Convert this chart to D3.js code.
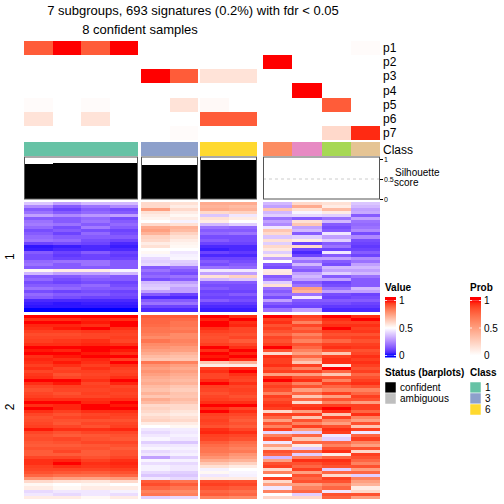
<!DOCTYPE html>
<html><head><meta charset="utf-8">
<script src="https://cdn.jsdelivr.net/npm/d3@7/dist/d3.min.js"></script>
<style>
body{margin:0;background:#fff}
svg{display:block}
text{font-family:"Liberation Sans",Arial,Helvetica,sans-serif;fill:#000}
</style>
</head><body>
<svg id="chart" width="504" height="504"></svg>
<script>
// ---------------- data ----------------
const titleLines = ["7 subgroups, 693 signatures (0.2%) with fdr < 0.05", "8 confident samples"];
const samples = ["s1","s2","s3","s4","s5","s6","s7","s8","s9","s10","s11","s12"];
const sampleClass = [1,1,1,1,3,3,6,6,2,4,5,7];
const sampleGroup = ["1","1","1","1","3","3","6","6","u","u","u","u"];
const silhouette = [0.875,0.9,0.9,0.9,0.85,0.85,0.975,0.975,0,0,0,0];
const sampleStatus = ["confident","confident","confident","confident","confident","confident","confident","confident","ambiguous","ambiguous","ambiguous","ambiguous"];
const probNames = ["p1","p2","p3","p4","p5","p6","p7"];
const probP1 = [0.8,1,0.8,1,0,0,0,0,0,0,0,0.02];
const probP2 = [0,0,0,0,0,0,0,0,1,0,0,0];
const probP3 = [0,0,0,0,1,0.8,0.15,0.15,0,0,0,0];
const probP4 = [0,0,0,0,0,0,0,0,0,1,0,0];
const probP5 = [0.02,0,0.02,0,0,0.15,0.03,0,0,0,0.8,0];
const probP6 = [0.15,0,0.15,0,0,0,0.8,0.8,0,0,0,0];
const probP7 = [0,0,0,0,0,0.02,0,0,0,0,0.2,0.95];
const rowGroupNames = ["1","2"];
// row group 1 (signature bands), one array per sample
const a1 = [0.38,0.25,0.15,0.2,0.3,0.15,0.2,0.22,0.18,0.12,0.15,0.18,0.2,0.1,0.02,0.03,0.15,0.12,0.12,0.18,0.2,0.15,0.52,0.35,0.15,0.18,0.12,0.15,0.2,0.12,0.18,0.15,0.05,0.03,0.02,0];
const a2 = [0.3,0.15,0.1,0.15,0.25,0.15,0.15,0.2,0.12,0.15,0.1,0.15,0.18,0.12,0.03,0.05,0.1,0.08,0.1,0.2,0.15,0.15,0.55,0.3,0.15,0.12,0.1,0.15,0.18,0.1,0.15,0.12,0.05,0.02,0.02,0];
const a3 = [0.35,0.2,0.15,0.18,0.28,0.18,0.2,0.15,0.22,0.12,0.18,0.15,0.12,0.1,0.05,0.05,0.15,0.1,0.1,0.2,0.2,0.15,0.55,0.3,0.18,0.15,0.12,0.18,0.15,0.12,0.15,0.1,0.05,0.03,0.02,0];
const a4 = [0.35,0.25,0.12,0.15,0.3,0.12,0.15,0.18,0.15,0.1,0.12,0.15,0.1,0.05,0.03,0.05,0.1,0.08,0.1,0.15,0.15,0.15,0.48,0.35,0.15,0.15,0.1,0.12,0.15,0.1,0.12,0.1,0.05,0.03,0.02,0];
const a5 = [0.6,0.6,0.75,0.58,0.55,0.53,0.5,0.6,0.72,0.75,0.7,0.62,0.6,0.55,0.58,0.5,0.52,0.48,0.42,0.4,0.42,0.15,0.2,0.15,0.18,0.12,0.35,0.38,0.4,0.3,0.15,0.05,0.15,0.2,0.1,0.05];
const a6 = [0.58,0.55,0.6,0.55,0.52,0.55,0.47,0.58,0.7,0.68,0.62,0.58,0.55,0.53,0.52,0.5,0.45,0.47,0.48,0.4,0.38,0.2,0.15,0.12,0.2,0.15,0.3,0.35,0.3,0.3,0.1,0.05,0.15,0.2,0.1,0.05];
const a7 = [0.72,0.7,0.72,0.6,0.38,0.58,0.55,0.35,0.2,0.15,0.18,0.12,0.15,0.1,0.05,0.03,0.1,0.05,0.1,0.15,0.12,0.2,0.45,0.3,0.58,0.35,0.15,0.12,0.15,0.1,0.12,0.1,0.15,0.08,0.05,0.03];
const a8 = [0.72,0.68,0.7,0.62,0.45,0.55,0.5,0.4,0.18,0.15,0.2,0.12,0.12,0.1,0.05,0.05,0.08,0.05,0.1,0.12,0.15,0.18,0.45,0.3,0.62,0.38,0.15,0.12,0.12,0.1,0.15,0.1,0.12,0.08,0.05,0.03];
const a9 = [0.35,0.3,0.65,0.35,0.4,0.2,0.3,0.25,0.45,0.65,0.6,0.38,0.58,0.4,0.6,0.56,0.4,0.55,0.3,0.5,0.15,0.12,0.55,0.56,0.15,0.2,0.4,0.58,0.2,0.15,0.2,0.12,0.3,0.15,0.1,0.2];
const a10 = [0.6,0.72,0.58,0.48,0.42,0.15,0.58,0.65,0.3,0.35,0.15,0.4,0.55,0.1,0.6,0.1,0.05,0.1,0.3,0.2,0.35,0.2,0.15,0.3,0.35,0.3,0.15,0.2,0.75,0.7,0.2,0.45,0.15,0.12,0.1,0.3];
const a11 = [0.58,0.55,0.68,0.55,0.4,0.2,0.35,0.15,0.12,0.15,0.45,0.3,0.4,0.15,0.2,0.1,0.45,0.15,0.3,0.15,0.12,0.35,0.3,0.4,0.15,0.3,0.1,0.12,0.2,0.3,0.12,0.1,0.15,0.12,0.08,0.05];
const a12 = [0.38,0.35,0.3,0.32,0.15,0.3,0.2,0.18,0.2,0.25,0.12,0.25,0.12,0.1,0.08,0.1,0.15,0.1,0.25,0.2,0.3,0.35,0.3,0.35,0.2,0.15,0.15,0.15,0.35,0.3,0.1,0.12,0.15,0.1,0.08,0.05];
// row group 2
const b1 = [1,0.97,1,0.98,0.97,0.95,0.93,0.94,0.95,0.97,1,0.99,1,0.97,0.98, 0.97,0.95,0.97,0.94,0.96,0.97,1,0.97,0.94,0.92,0.94,0.95,0.97,1,0.97, 1,0.97,0.94,0.92,0.93,0.94,0.95,0.99,0.94,0.92,0.93,0.91,0.9,0.92,0.9, 0.9,0.94,0.97,0.97,0.95,0.94,0.92,0.88,0.78,0.6,0.52,0.55,0.42,0.45,0.55];
const b2 = [1,0.97,1,0.98,0.99,0.95,0.93,0.94,0.96,0.97,1,0.98,1,0.99,0.97, 0.99,0.97,0.94,0.95,0.92,0.94,1,0.99,0.95,0.94,0.92,0.94,0.97,1,0.98, 0.98,0.95,0.92,0.94,0.92,0.91,0.94,0.97,0.92,0.9,0.94,0.92,0.9,0.92,0.94, 0.9,0.94,0.98,1,0.97,0.94,0.91,0.86,0.75,0.58,0.5,0.52,0.45,0.42,0.55];
const b3 = [1,0.98,0.99,0.97,1,0.96,0.94,0.94,0.97,0.98,1,1,0.99,1,0.98, 0.97,0.95,0.97,0.95,0.94,0.95,0.97,0.94,0.95,0.94,0.95,0.94,0.97,0.98,1, 1,0.97,0.94,0.95,0.92,0.94,0.92,0.97,0.94,0.91,0.92,0.94,0.91,0.92,0.9, 0.9,0.92,0.95,0.97,0.96,0.94,0.9,0.86,0.74,0.57,0.52,0.55,0.45,0.45,0.52];
const b4 = [1,0.97,1,1,0.97,0.95,0.94,0.95,0.94,0.97,1,0.99,0.97,1,0.95, 1,0.97,0.95,0.94,0.95,0.97,1,0.98,0.94,0.95,0.94,0.95,0.97,1,0.99, 1,0.97,0.95,0.94,0.92,0.94,0.95,0.98,0.94,0.92,0.91,0.94,0.92,0.9,0.92, 0.92,0.94,0.97,0.98,0.97,0.95,0.92,0.88,0.76,0.6,0.5,0.55,0.47,0.43,0.55];
const b5 = [0.9,0.88,0.88,0.87,0.85,0.85,0.83,0.8,0.85,0.8,0.78,0.75,0.72,0.68,0.65, 0.85,0.78,0.75,0.78,0.75,0.72,0.7,0.72,0.68,0.66,0.7,0.65,0.72,0.68,0.6, 0.62,0.6,0.57,0.6,0.62,0.55,0.5,0.45,0.42,0.45,0.48,0.4,0.45,0.48,0.42, 0.45,0.3,0.48,0.43,0.47,0.47,0.42,0.38,0.45,0.9,0.93,0.88,0.82,0.85,0.4];
const b6 = [0.9,0.87,0.85,0.85,0.83,0.85,0.8,0.8,0.82,0.8,0.76,0.75,0.7,0.67,0.65, 0.82,0.75,0.72,0.75,0.72,0.7,0.68,0.7,0.65,0.63,0.66,0.65,0.68,0.65,0.6, 0.6,0.57,0.55,0.58,0.6,0.55,0.52,0.46,0.45,0.47,0.45,0.38,0.45,0.47,0.45, 0.47,0.4,0.47,0.42,0.45,0.45,0.4,0.38,0.42,0.85,0.9,0.85,0.8,0.82,0.42];
const b7 = [1,0.98,1,1,0.97,0.95,0.93,0.92,0.93,0.95,1,0.97,1,0.99,1, 0.65,0.55,0.95,0.97,0.94,0.94,0.97,1,0.95,0.94,0.92,0.94,0.95,0.97,1, 0.97,1,0.95,0.94,0.95,0.94,0.92,0.97,0.98,0.95,0.94,0.9,0.87,0.85,0.85, 0.82,0.78,0.72,0.65,0.58,0.47,0.52,0.45,0.55,0.93,0.95,0.92,0.88,0.9,0.82];
const b8 = [0.97,1,0.97,0.98,0.94,0.94,0.92,0.94,0.9,0.94,0.97,1,0.98,1,0.97, 0.7,0.55,0.97,1,0.97,0.95,0.94,0.97,0.94,0.95,0.94,0.92,0.94,0.97,1, 0.94,0.97,0.94,0.92,0.9,0.92,0.9,0.94,0.97,0.94,0.92,0.87,0.85,0.82,0.84, 0.78,0.75,0.7,0.62,0.55,0.5,0.48,0.47,0.55,0.92,0.94,0.9,0.86,0.88,0.8];
const b9 = [1,0.95,0.97,0.92,0.95,0.92,0.88,0.94,0.92,0.95,1,0.92,0.6,0.97,0.95, 0.95,0.97,0.92,0.95,0.75,0.97,1,0.92,0.95,0.92,0.82,0.95,0.92,0.95,0.97, 0.95,0.6,0.95,0.88,0.75,0.92,0.82,0.95,0.42,0.82,0.92,0.45,0.75,0.6,0.92, 0.88,0.35,0.75,0.92,0.95,0.6,0.82,0.5,0.95,0.6,0.75,0.45,0.82,0.5,0.6];
const b10 = [0.95,0.92,0.82,0.94,0.88,0.92,0.82,0.88,0.82,0.92,0.88,0.82,0.75,0.88,0.75, 0.65,0.95,0.82,0.95,0.75,0.92,0.97,0.82,0.92,0.75,0.88,0.65,0.88,0.6,0.95, 0.97,0.75,0.95,0.65,0.92,0.82,0.95,0.75,0.4,0.88,0.65,0.88,0.55,0.4,0.88, 0.4,0.82,0.97,0.92,0.88,0.95,0.75,0.92,0.88,0.92,0.75,0.82,0.88,0.4,0.6];
const b11 = [1,0.97,0.95,0.97,1,0.95,0.92,0.94,0.88,0.95,0.97,0.92,0.65,0.95,0.97, 0.97,0.55,1,0.88,0.65,0.92,0.82,0.95,0.88,0.82,0.95,0.75,0.92,0.82,0.95, 1,0.97,0.65,0.95,0.82,0.75,0.92,0.97,0.95,0.45,0.4,0.88,0.82,0.92,0.97, 0.55,0.88,0.97,0.95,0.92,0.4,0.88,0.6,0.95,0.92,0.82,0.88,0.45,0.92,0.88];
const b12 = [0.97,1,0.95,0.97,0.95,0.96,0.92,0.95,0.92,0.95,0.96,0.92,0.94,0.97,0.95, 0.97,0.95,0.92,0.95,0.88,0.92,0.95,0.97,0.92,0.82,0.88,0.95,0.92,0.75,0.95, 0.95,0.88,0.97,0.82,0.75,0.92,0.65,0.95,0.45,0.88,0.95,0.82,0.75,0.92,0.6, 0.95,0.92,0.88,0.82,0.92,0.75,0.88,0.4,0.82,0.75,0.7,0.55,0.6,0.92,0.75];
const classLevels = [1,2,3,4,5,6,7];
const classColors = ["#66C2A5","#FC8D62","#8DA0CB","#E78AC3","#A6D854","#FFD92F","#E5C494"];
const legendClasses = [1,3,6];
const statusLevels = ["confident","ambiguous"];
const statusColors = ["#000000","#BEBEBE"];
const valueTicks = [0,0.5,1];
const valueTickLabels = ["0","0.5","1"];
const silTicks = [0,0.5,1];
const silTickLabels = ["0","0.5","1"];

// ---------------- build ----------------
const probRows = [probP1,probP2,probP3,probP4,probP5,probP6,probP7];
const groupA = [a1,a2,a3,a4,a5,a6,a7,a8,a9,a10,a11,a12];
const groupB = [b1,b2,b3,b4,b5,b6,b7,b8,b9,b10,b11,b12];
const rowGroups = [groupA, groupB];

const svg = d3.select("#chart");
const valueColor = d3.scaleLinear().domain([0,0.5,1]).range(["#0000FF","#FFFFFF","#FF0000"]).interpolate(d3.interpolateLab).clamp(true);
const probColor = d3.scaleLinear().domain([0,1]).range(["#FFFFFF","#FF0000"]).interpolate(d3.interpolateLab).clamp(true);
const classColor = d3.scaleOrdinal().domain(classLevels).range(classColors);
const statusColor = d3.scaleOrdinal().domain(statusLevels).range(statusColors);

// layout
const colGroupKeys = ["1","3","6","u"];
const colGroupExtent = {"1":[24,138],"3":[141,198],"6":[200,257],"u":[263,380]};
const colScales = {};
colGroupKeys.forEach(k=>{
  const idx = samples.map((s,i)=>i).filter(i=>sampleGroup[i]===k);
  colScales[k] = d3.scaleBand().domain(idx).range(colGroupExtent[k]).padding(0);
});
const xOf = i => colScales[sampleGroup[i]](i);
const wOf = i => colScales[sampleGroup[i]].bandwidth();
const rightEdge = 380;

// titles
svg.append("text").attr("x",193).attr("y",15).attr("text-anchor","middle").style("font-size","13px").text(titleLines[0]);
svg.append("text").attr("x",140).attr("y",33.5).attr("text-anchor","middle").style("font-size","13px").text(titleLines[1]);

// prob annotation
const yProb = d3.scaleBand().domain(probNames).range([41,140]);
probRows.forEach((row,r)=>{
  svg.append("g").selectAll("rect").data(row).join("rect")
    .attr("x",(d,i)=>xOf(i)).attr("width",(d,i)=>wOf(i))
    .attr("y",yProb(probNames[r])).attr("height",yProb.bandwidth())
    .attr("fill",d=>probColor(d)).attr("shape-rendering","crispEdges");
  svg.append("text").attr("x",rightEdge+3).attr("y",yProb(probNames[r])+yProb.bandwidth()/2+4)
    .style("font-size","12px").text(probNames[r]);
});
// class annotation
svg.append("g").selectAll("rect").data(sampleClass).join("rect")
  .attr("x",(d,i)=>xOf(i)).attr("width",(d,i)=>wOf(i))
  .attr("y",142).attr("height",14).attr("fill",d=>classColor(d)).attr("shape-rendering","crispEdges");
svg.append("text").attr("x",rightEdge+3).attr("y",153.5).style("font-size","12px").text("Class");

// silhouette barplot
const ySil = d3.scaleLinear().domain([0,1]).range([199,159]);
colGroupKeys.forEach(k=>{
  const [x0,x1] = colGroupExtent[k];
  svg.append("line").attr("x1",x0).attr("x2",x1).attr("y1",ySil(0.5)).attr("y2",ySil(0.5))
    .attr("stroke","#cccccc").attr("stroke-dasharray","3,3").attr("stroke-width",1);
});
svg.append("g").selectAll("rect").data(silhouette).join("rect")
  .attr("x",(d,i)=>xOf(i)).attr("width",(d,i)=>wOf(i))
  .attr("y",d=>ySil(d)).attr("height",d=>ySil(0)-ySil(d))
  .attr("fill",(d,i)=>statusColor(sampleStatus[i])).attr("shape-rendering","crispEdges");
colGroupKeys.forEach(k=>{
  const [x0,x1] = colGroupExtent[k];
  svg.append("rect").attr("x",x0+0.5).attr("y",157).attr("width",x1-x0-1).attr("height",42)
    .attr("fill","none").attr("stroke","#555555").attr("stroke-width",1);
});
const silAxis = svg.append("g").attr("transform",`translate(${rightEdge},0)`)
  .call(d3.axisRight(ySil).tickValues(silTicks).tickFormat((d,i)=>silTickLabels[i]).tickSize(3).tickPadding(1));
silAxis.select(".domain").remove();
silAxis.selectAll("line").attr("stroke","#000");
silAxis.selectAll("text").style("font-size","7px").style("font-family","Liberation Sans, Arial, sans-serif");
svg.append("text").attr("x",395).attr("y",176).style("font-size","10px").text("Silhouette");
svg.append("text").attr("x",394).attr("y",186).style("font-size","10px").text("score");

// heatmap
const rowExtent = [[202,311.5],[315,498.7]];
rowGroups.forEach((grp,g)=>{
  const n = grp[0].length;
  const yb = d3.scaleBand().domain(d3.range(n)).range(rowExtent[g]);
  grp.forEach((col,i)=>{
    svg.append("g").selectAll("rect").data(col).join("rect")
      .attr("x",xOf(i)).attr("width",wOf(i))
      .attr("y",(d,r)=>yb(r)).attr("height",yb.bandwidth()+0.4)
      .attr("fill",d=>valueColor(d)).attr("shape-rendering","crispEdges");
  });
  const cy = (rowExtent[g][0]+rowExtent[g][1])/2;
  svg.append("text").attr("transform",`translate(14,${cy}) rotate(-90)`).attr("text-anchor","middle")
    .style("font-size","12px").text(rowGroupNames[g]);
});

// legends
function colorBarLegend(x, title, scale){
  svg.append("text").attr("x",x).attr("y",291).style("font-size","10px").style("font-weight","bold").text(title);
  const yl = d3.scaleLinear().domain([0,1]).range([355.5,300.5]);
  const id = "grad_"+title;
  const grad = svg.append("defs").append("linearGradient").attr("id",id).attr("x1",0).attr("x2",0).attr("y1",1).attr("y2",0);
  d3.range(0,1.0001,0.05).forEach(t=>{
    grad.append("stop").attr("offset",t).attr("stop-color",scale(t));
  });
  svg.append("rect").attr("x",x).attr("y",297).attr("width",11).attr("height",3.5).attr("fill",scale(1));
  svg.append("rect").attr("x",x).attr("y",355.5).attr("width",11).attr("height",2).attr("fill",scale(0));
  svg.append("rect").attr("x",x).attr("y",yl(1)).attr("width",11).attr("height",yl(0)-yl(1)).attr("fill",`url(#${id})`);
  valueTicks.forEach((v,i)=>{
    svg.append("line").attr("x1",x).attr("x2",x+2).attr("y1",yl(v)).attr("y2",yl(v)).attr("stroke","#fff").attr("stroke-width",0.8);
    svg.append("line").attr("x1",x+9).attr("x2",x+11).attr("y1",yl(v)).attr("y2",yl(v)).attr("stroke","#fff").attr("stroke-width",0.8);
    svg.append("text").attr("x",x+14).attr("y",yl(v)+3.5).style("font-size","10px").text(valueTickLabels[i]);
  });
}
colorBarLegend(385,"Value",valueColor);
colorBarLegend(470,"Prob",probColor);

function discreteLegend(x, title, labels, colors){
  svg.append("text").attr("x",x).attr("y",376).style("font-size","10px").style("font-weight","bold").text(title);
  labels.forEach((lab,i)=>{
    const y = 382 + i*11;
    svg.append("rect").attr("x",x).attr("y",y).attr("width",11).attr("height",11).attr("fill",colors[i]).attr("stroke","#fff").attr("stroke-width",0.5);
    svg.append("text").attr("x",x+15).attr("y",y+9).style("font-size","10px").text(lab);
  });
}
discreteLegend(385,"Status (barplots)",statusLevels,statusLevels.map(s=>statusColor(s)));
discreteLegend(470,"Class",legendClasses.map(String),legendClasses.map(c=>classColor(c)));
</script>
</body></html>
